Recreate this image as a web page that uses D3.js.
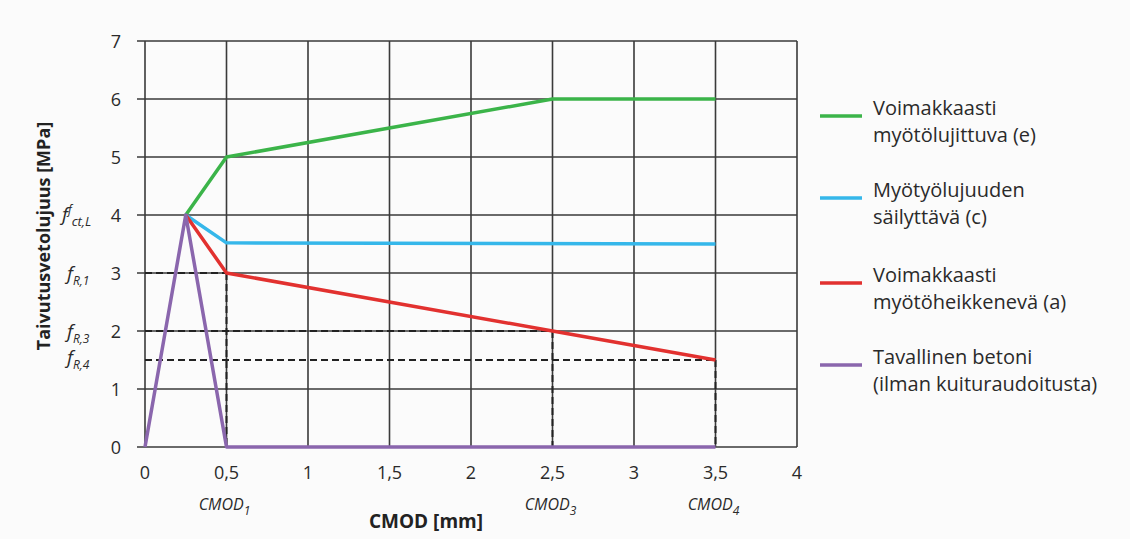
<!DOCTYPE html>
<html lang="fi">
<head>
<meta charset="UTF-8">
<title>CMOD</title>
<script src="https://d3js.org/d3.v7.min.js"></script>
<style>
  html, body { margin: 0; padding: 0; background: #fbfbfb; }
  svg { display: block; font-family: "Open Sans", sans-serif; }
  .tick-label { font-size: 18px; fill: #2a2a2a; }
  .axis-title { font-weight: bold; fill: #222; }
  .marker { font-style: italic; fill: #2a2a2a; }
  .legend { font-size: 20px; fill: #2a2a2a; }
</style>
</head>
<body>
<svg id="chart"></svg>
<script>
const xTicks = [0, 0.5, 1, 1.5, 2, 2.5, 3, 3.5, 4];
const yTicks = [0, 1, 2, 3, 4, 5, 6, 7];
const fmt = d => String(d).replace(".", ",");

const series = [
  { name: ["Voimakkaasti", "myötölujittuva (e)"], color: "#3bb449",
    x: [0.25, 0.5, 2.5, 3.5], y: [4, 5, 6, 6] },
  { name: ["Myötyölujuuden", "säilyttävä (c)"], color: "#35b7ea",
    x: [0.25, 0.5, 3.5], y: [4, 3.52, 3.5] },
  { name: ["Voimakkaasti", "myötöheikkenevä (a)"], color: "#e2312f",
    x: [0.25, 0.5, 2.5, 3.5], y: [4, 3, 2, 1.5] },
  { name: ["Tavallinen betoni", "(ilman kuituraudoitusta)"], color: "#8a66ad",
    x: [0, 0.25, 0.5, 3.5], y: [0, 4, 0, 0] }
];

// reference levels f_R,i at CMOD_i
const refX = [0.5, 2.5, 3.5];
const refY = [3, 2, 1.5];
const refNames = ["1", "3", "4"];

const width = 1130, height = 539;
const svg = d3.select("#chart").attr("width", width).attr("height", height);

const x = d3.scaleLinear().domain([0, 4]).range([145, 797]);
const y = d3.scaleLinear().domain([0, 7]).range([447, 41]);

// grid
svg.append("g").selectAll("line").data(xTicks).join("line")
  .attr("x1", d => x(d)).attr("x2", d => x(d))
  .attr("y1", y(0)).attr("y2", y(7))
  .attr("stroke", "#3a3a3a").attr("stroke-width", 1.6);
svg.append("g").selectAll("line").data(yTicks).join("line")
  .attr("x1", x(0) - 8).attr("x2", x(4))
  .attr("y1", d => y(d)).attr("y2", d => y(d))
  .attr("stroke", "#3a3a3a").attr("stroke-width", 1.6);

// tick labels
svg.append("g").selectAll("text").data(xTicks).join("text")
  .attr("class", "tick-label")
  .attr("x", d => x(d)).attr("y", y(0) + 32)
  .attr("text-anchor", "middle").text(fmt);
svg.append("g").selectAll("text").data(yTicks).join("text")
  .attr("class", "tick-label")
  .attr("x", 121).attr("y", d => y(d) + 7)
  .attr("text-anchor", "end").text(d => d);

// dashed reference lines
const dash = svg.append("g").attr("stroke", "#222").attr("stroke-width", 2)
  .attr("stroke-dasharray", "7,4").attr("fill", "none");
refX.forEach((cx, i) => {
  dash.append("line").attr("x1", x(0)).attr("x2", x(cx))
    .attr("y1", y(refY[i])).attr("y2", y(refY[i]));
  dash.append("line").attr("x1", x(cx)).attr("x2", x(cx))
    .attr("y1", y(refY[i])).attr("y2", y(0));
});

// series lines
const line = d3.line().x(d => x(d[0])).y(d => y(d[1]));
series.forEach(s => {
  svg.append("path")
    .datum(s.x.map((v, i) => [v, s.y[i]]))
    .attr("d", line)
    .attr("fill", "none").attr("stroke", s.color)
    .attr("stroke-width", 3.5).attr("stroke-linejoin", "round");
});

// f labels on the left
const fl = svg.append("g").attr("class", "marker").attr("font-size", 19);
const ft = fl.append("text").attr("x", 62).attr("y", y(4) + 6);
ft.append("tspan").text("f");
ft.append("tspan").attr("dy", -7).attr("font-size", 12).text("f");
ft.append("tspan").attr("dy", 12).attr("font-size", 13).text("ct,L");
refY.forEach((v, i) => {
  const t = fl.append("text").attr("x", 67).attr("y", y(v) + (i === 2 ? 4 : 7));
  t.append("tspan").text("f");
  t.append("tspan").attr("dy", 5).attr("font-size", 12).text("R," + refNames[i]);
});

// CMOD_i labels
refX.forEach((cx, i) => {
  const t = svg.append("text").attr("class", "marker").attr("font-size", 16)
    .attr("x", x(cx) - 2).attr("y", y(0) + 63).attr("text-anchor", "middle");
  t.append("tspan").text("CMOD");
  t.append("tspan").attr("dy", 5).attr("font-size", 12).text(refNames[i]);
});

// axis titles
svg.append("text").attr("class", "axis-title").attr("font-size", 19)
  .attr("x", 426).attr("y", 528).attr("text-anchor", "middle").text("CMOD [mm]");
svg.append("text").attr("class", "axis-title").attr("font-size", 18)
  .attr("transform", "translate(50,236) rotate(-90)")
  .attr("text-anchor", "middle").text("Taivutusvetolujuus [MPa]");

// legend
const legY = [116, 198, 283, 365];
const leg = svg.append("g");
series.forEach((s, i) => {
  leg.append("line").attr("x1", 820).attr("x2", 862)
    .attr("y1", legY[i]).attr("y2", legY[i])
    .attr("stroke", s.color).attr("stroke-width", 3.5);
  s.name.forEach((n, j) => {
    leg.append("text").attr("class", "legend")
      .attr("x", 873).attr("y", legY[i] - 1 + j * 27).text(n);
  });
});
</script>
</body>
</html>
